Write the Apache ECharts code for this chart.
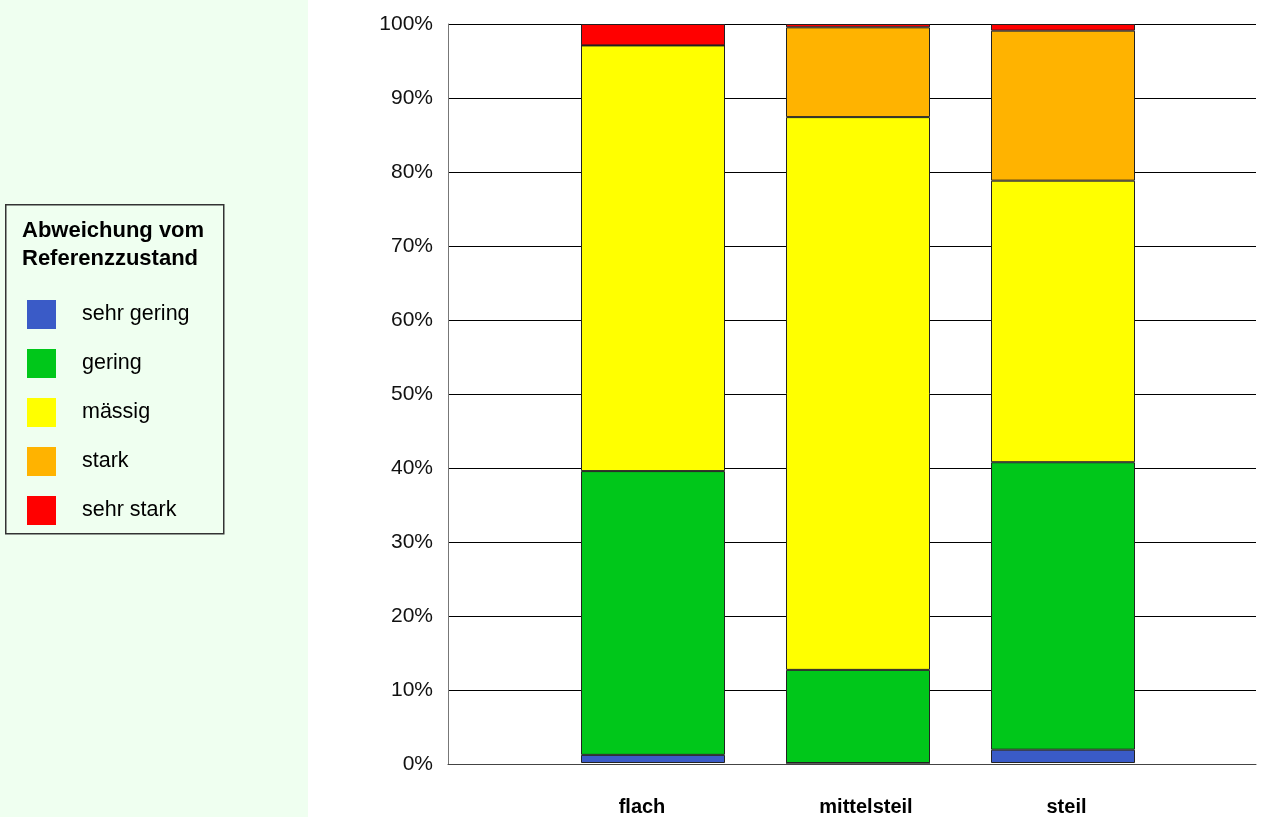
<!DOCTYPE html>
<html>
<head>
<meta charset="utf-8">
<title>Abweichung vom Referenzzustand</title>
<script src="https://cdn.jsdelivr.net/npm/echarts@6/dist/echarts.min.js"></script>
<style>
  html, body { margin: 0; padding: 0; background: #fff; }
  #chart { width: 1261px; height: 817px; }
</style>
</head>
<body>
<div id="chart"></div>
<script>
// Kategorien (Hangneigung)
const categories = ['flach', 'mittelsteil', 'steil']
// Anteile in % je Klasse, Reihenfolge wie categories
const sehrGering = [1.1, 0, 1.8]
const gering = [38.4, 12.6, 38.9]
const maessig = [57.6, 74.8, 38.1]
const stark = [0, 12.15, 20.3]
const sehrStark = [2.9, 0.45, 0.9]
// Y-Achse 0..100 %
const yTicks = [0, 10, 20, 30, 40, 50, 60, 70, 80, 90, 100]

const font = 'Liberation Sans, Arial, sans-serif'
const chart = echarts.init(document.getElementById('chart'))

function makeSeries (name, data, color) {
  return {
    name: name,
    type: 'bar',
    stack: 'total',
    xAxisIndex: 1,
    yAxisIndex: 1,
    barWidth: 144,
    data: data,
    itemStyle: {
      color: color,
      borderColor: '#222',
      borderWidth: 1
    }
  }
}

const yMin = yTicks[0]
const yMax = yTicks[yTicks.length - 1]

// Beschriftung etwas versetzt wie im Original
const labelStyle = { fontSize: 20, fontWeight: 'bold', fontFamily: font, color: '#000' }

const option = {
  animation: false,
  backgroundColor: '#fff',
  textStyle: { fontFamily: font },
  graphic: [
    {
      // hellgrünes Feld links
      type: 'rect',
      left: 0,
      top: 0,
      z: -10,
      shape: { width: 308, height: 817 },
      style: { fill: '#effff0' }
    },
    {
      // Rahmen der Legende
      type: 'rect',
      left: 5,
      top: 204,
      z: -5,
      shape: { width: 218, height: 329 },
      style: { fill: '#effff0', stroke: '#333', lineWidth: 1.5 }
    },
    {
      type: 'text',
      left: 22,
      top: 217,
      style: {
        text: 'Abweichung vom\nReferenzzustand',
        font: 'bold 22px ' + font,
        lineHeight: 28,
        fill: '#000'
      }
    }
  ],
  legend: {
    orient: 'vertical',
    left: 22,
    top: 295,
    itemWidth: 29,
    itemHeight: 29,
    itemGap: 20,
    icon: 'rect',
    itemStyle: { borderWidth: 0 },
    textStyle: {
      fontSize: 21.5,
      fontFamily: font,
      color: '#000',
      padding: [6, 0, 0, 21]
    },
    data: ['sehr gering', 'gering', 'mässig', 'stark', 'sehr stark']
  },
  grid: [
    // volle Breite: Gitterlinien und Achsen
    { left: 448, right: 5, top: 24, bottom: 53 },
    // Balkenbereich
    { left: 550.5, right: 95.5, top: 24, bottom: 53 }
  ],
  xAxis: [
    {
      type: 'category',
      gridIndex: 0,
      data: [''],
      axisTick: { show: false },
      axisLabel: { show: false },
      axisLine: { show: true, lineStyle: { color: '#444', width: 1 } }
    },
    {
      type: 'category',
      gridIndex: 1,
      data: categories,
      axisTick: { show: false },
      axisLine: { show: false },
      axisLabel: {
        margin: 34,
        formatter: (v) => {
          if (v === 'flach') return '{a|' + v + '}'
          if (v === 'mittelsteil') return '{b|' + v + '}'
          return '{c|' + v + '}'
        },
        rich: {
          a: Object.assign({ padding: [0, 22, 0, 0] }, labelStyle),
          b: Object.assign({ padding: [0, 0, 0, 16] }, labelStyle),
          c: Object.assign({ padding: [0, 0, 0, 7] }, labelStyle)
        }
      }
    }
  ],
  yAxis: [
    {
      type: 'value',
      gridIndex: 0,
      min: yMin,
      max: yMax,
      interval: 10,
      axisLine: { show: true, lineStyle: { color: '#777', width: 1 } },
      axisTick: { show: false },
      splitLine: { show: true, lineStyle: { color: '#000', width: 1 } },
      axisLabel: {
        margin: 15,
        fontSize: 21,
        fontFamily: font,
        color: '#111',
        formatter: '{value}%'
      }
    },
    {
      type: 'value',
      gridIndex: 1,
      min: yMin,
      max: yMax,
      interval: 10,
      show: false,
      splitLine: { show: false }
    }
  ],
  series: [
    makeSeries('sehr gering', sehrGering, '#3a5bc7'),
    makeSeries('gering', gering, '#00c71a'),
    makeSeries('mässig', maessig, '#ffff00'),
    makeSeries('stark', stark, '#ffb300'),
    makeSeries('sehr stark', sehrStark, '#ff0000')
  ]
}

chart.setOption(option)
</script>
</body>
</html>
